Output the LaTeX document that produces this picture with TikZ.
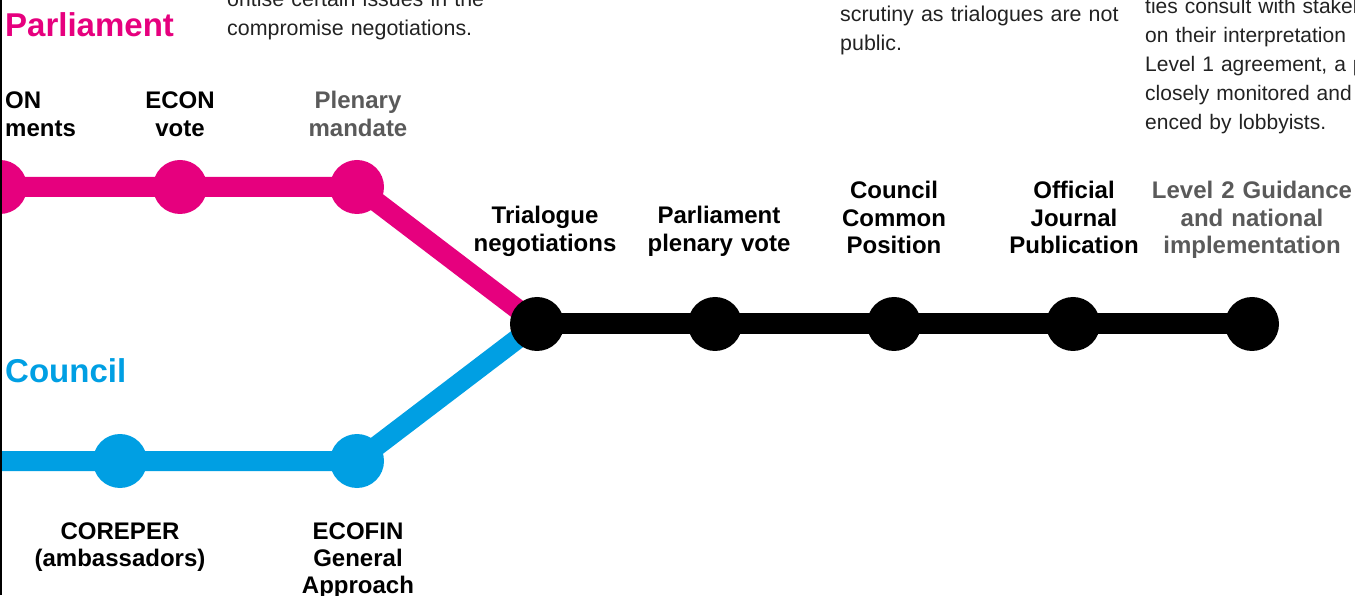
\documentclass[tikz,border=0pt]{standalone}
\usepackage{fontspec}
\setmainfont{Liberation Sans}
\usetikzlibrary{positioning}
\definecolor{parlpink}{HTML}{E6007E}
\definecolor{councilblue}{HTML}{009FE3}
\definecolor{latergray}{HTML}{5A5A5A}
\definecolor{notegray}{HTML}{222222}
\newcommand\stagefont{\fontsize{24}{27.3}\selectfont\bfseries}
\newcommand\notefont{\fontsize{21.4}{29}\selectfont}
\begin{document}
\begin{tikzpicture}
[ x=1pt, y=1pt
, stop/.style={circle, minimum size=54pt, inner sep=0pt, fill=#1}
, track/.style={line width=20pt, draw=#1}
, stage/.style={text width=220pt, align=center, inner sep=0pt, anchor=base, font=\stagefont}
, note/.style={text width=420pt, align=left, inner sep=0pt, anchor=base west, font=\notefont, text=notegray}
, heading/.style={anchor=west, inner sep=0pt, font=\fontsize{33}{36}\selectfont\bfseries}
]
\useasboundingbox (0,0) rectangle (1355,595);
\clip (0,0) rectangle (1355,595);
% Stops:
\coordinate (p0) at (0,408);
\coordinate (p1) at (180,408);
\coordinate (p2) at (357,408);
\coordinate (c0) at (-20,134);
\coordinate (c1) at (120,134);
\coordinate (c2) at (357,134);
\coordinate (t1) at (537,271);
\coordinate (t2) at (715,271);
\coordinate (t3) at (894,271);
\coordinate (t4) at (1073,271);
\coordinate (t5) at (1252,271);
% Tracks:
\draw [track=black, line width=21pt] (t1) -- (t5);
\draw [track=parlpink] (p0) -- (p1) -- (p2) -- (t1);
\draw [track=councilblue] (c0) -- (c1) -- (c2) -- (t1);
\foreach \s in {p0,p1,p2} \node [stop=parlpink] at (\s) {};
\foreach \s in {c1,c2} \node [stop=councilblue] at (\s) {};
\foreach \s in {t1,t2,t3,t4,t5} \node [stop=black] at (\s) {};
% Headings:
\node (hparl) [heading, text=parlpink] at (5,570) {Parliament};
\node (hcouncil) [heading, text=councilblue] at (5,224.5) {Council};
% Parliament stages:
\node (samend) [stage, anchor=base west, align=left] at ([xshift=5pt, yshift=78pt]p0) {ON\\ments};
\node (svote) [stage] at ([yshift=78pt]p1) {ECON\\vote};
\node (smandate) [stage, text=latergray] at ([xshift=1pt, yshift=78pt]p2) {Plenary\\mandate};
% Council stages:
\node (scoreper) [stage] at ([yshift=-78pt]c1) {COREPER\\(ambassadors)};
\node (secofin) [stage] at ([xshift=1pt, yshift=-78pt]c2) {ECOFIN\\General\\Approach};
% Common stages:
\node (strilogue) [stage] at ([xshift=8pt, yshift=100pt]t1) {Trialogue\\negotiations};
\node (splenary) [stage] at ([xshift=4pt, yshift=100pt]t2) {Parliament\\plenary vote};
\node (scommon) [stage] at ([yshift=125pt]t3) {Council\\Common\\Position};
\node (sjournal) [stage] at ([xshift=1pt, yshift=125pt]t4) {Official\\Journal\\Publication};
\node (slevel) [stage, text=latergray] at ([yshift=125pt]t5) {Level 2 Guidance\\and national\\implementation};
% Notes:
\node (nleft) [note] at (227,588.5) {oritise certain issues in the\\compromise negotiations.};
\node (nmid) [note] at (840,573) {scrutiny as trialogues are not\\public.};
\node (nright) [note, font=\fontsize{21}{29}\selectfont] at (1145,581) {ties consult with stakel\\on their interpretation\\Level 1 agreement, a p\\closely monitored and\\enced by lobbyists.};
% Frame edge:
\draw [line width=1.5pt] (0.75,0) -- (0.75,595);
\end{tikzpicture}
\end{document}
